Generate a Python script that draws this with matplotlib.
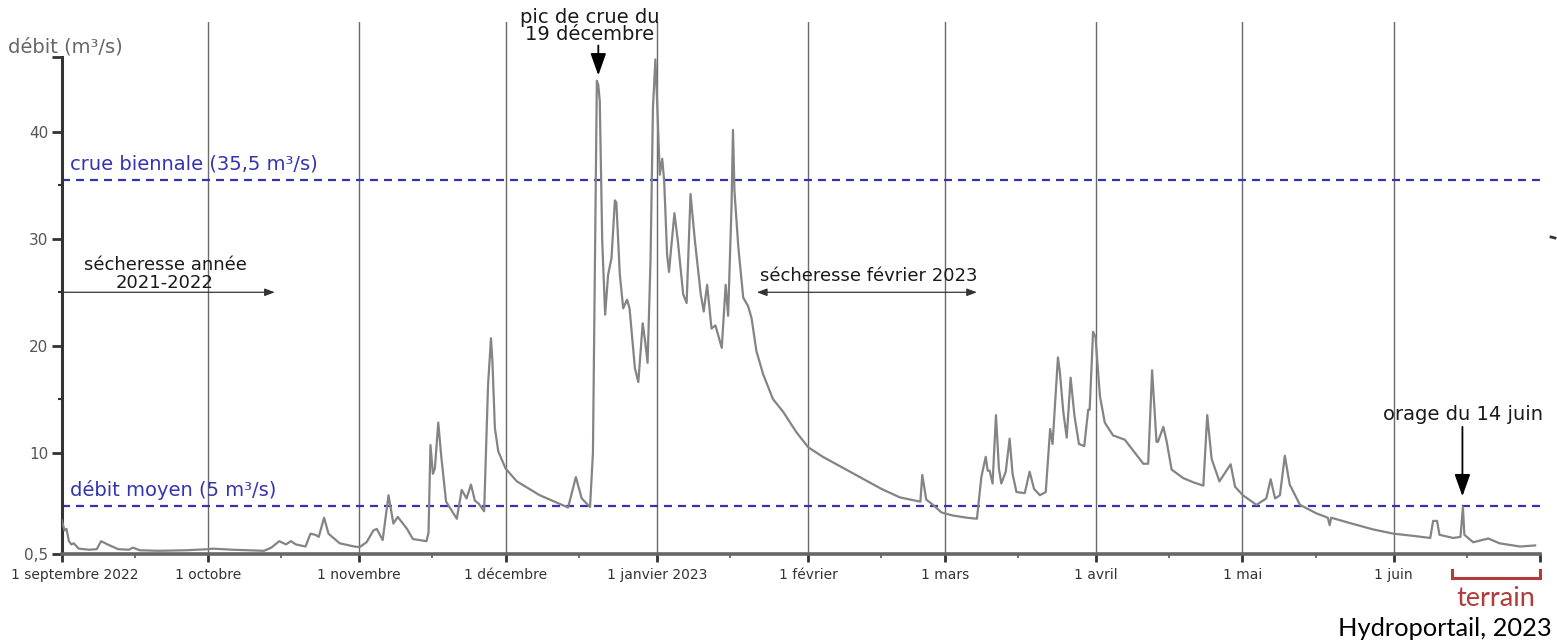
import matplotlib
matplotlib.use("Agg")
import matplotlib.pyplot as plt
import matplotlib.dates as mdates
from matplotlib.transforms import ScaledTranslation
from matplotlib.lines import Line2D
import pandas as pd

# ---------------- data ----------------
debut = pd.Timestamp("2022-09-01")
# days since 1 Sept 2022 of each reading
jours = [0, 0.6, 1.0, 1.5, 2, 2.5, 3.5, 5.7, 7.2, 8.1, 9.4, 11.6, 13.8, 14.6, 16, 20, 25.5, 30, 31, 35,
         41.5, 43, 44.6, 46, 47, 48, 50, 51, 52, 52.7, 53.8, 54.7, 57, 60, 61.1, 62.5, 63.9, 64.6, 65.8,
         67, 68, 68.9, 70.8, 72, 74.8, 75.2, 75.6, 76.1, 76.5, 77.2, 77.8, 78.8, 81, 82, 83, 83.9, 84.7,
         85.5, 86.6, 87.4, 88, 88.3, 88.8, 89.5, 91, 93.3, 98, 102, 103.8, 105.4, 106.6, 108.3,
         108.9, 109.7, 110.0, 110.3, 110.8, 111.4, 112, 112.7, 113.4, 113.7, 114.4, 115.1, 115.9, 116.4,
         117.5, 118.2, 119.1, 119.6, 120.1, 120.7, 121.2, 121.7, 122.1, 122.6, 123.1, 123.5, 124.1,
         124.5, 124.8, 125.6, 126.3, 127.4, 128.1, 128.9, 129.8, 131, 131.6, 132.3, 133.2, 134, 135.3,
         136.1, 136.6, 137.3, 137.6, 137.9, 138.7, 139.7, 140.7, 141.4, 142.4, 143.8, 145.8, 147.9,
         150.6, 153, 156, 160, 164, 168, 171.8, 174.9, 176, 176.4, 177.2, 178.6, 180.3, 181, 182.7,
         185.5, 187.6, 188.5, 189.4, 189.8, 190.2, 190.8, 191.5, 192.1, 192.6, 193.5, 194.3, 194.9,
         195.7, 197.4, 198.4, 199.3, 200.5, 201.7, 202.6, 203.1, 204.2, 204.6, 205.3, 206, 206.8,
         207.6, 208.5, 209.6, 210.4, 210.7, 211.4, 211.9, 212.8, 213.8, 215.5, 217.9, 219.6, 221.7,
         222.7, 223.5, 224.4, 224.7, 225.8, 226.5, 227.5, 229.9, 232, 234, 234.8, 235.7, 237.3, 239.6,
         240.5, 242.1, 244.9, 246.9, 247.8, 248.7, 249.7, 250.7, 251.7, 253.8, 257.2, 259.5, 259.9,
         260.2, 264, 268.8, 273, 277, 280.5, 281.1, 281.9, 282.4, 285.2, 286.7, 287.2, 287.5, 289.3,
         292.4, 294.7, 298.9, 302]
debit = [3.7, 2.7, 2.85, 1.7, 1.4, 1.5, 1.0, 0.9, 0.95, 1.7, 1.4, 0.95, 0.9, 1.1, 0.85, 0.8, 0.85, 0.95, 1.0, 0.9,
         0.8, 1.1, 1.7, 1.4, 1.7, 1.4, 1.2, 2.4, 2.3, 2.1, 3.9, 2.4, 1.5, 1.2, 1.15, 1.6, 2.7, 2.85, 1.8,
         6.0, 3.35, 3.97, 2.85, 1.9, 1.7, 2.5, 10.7, 8.0, 8.5, 12.8, 9.7, 5.4, 3.8, 6.5, 5.7, 7.0, 5.5,
         5.2, 4.5, 16.3, 20.7, 18.5, 12.3, 10.1, 8.5, 7.3, 6.0, 5.2, 4.85, 7.7, 5.7, 4.9,
         10.0, 44.8, 44.4, 42.9, 29.8, 22.9, 26.6, 28.2, 33.6, 33.4, 26.7, 23.5, 24.3, 23.5,
         17.9, 16.6, 22.1, 20.4, 18.4, 28.0, 42.3, 46.8, 42.3, 36.0, 37.5, 35.4, 28.5,
         26.9, 28.5, 32.4, 29.8, 24.8, 24.0, 34.2, 29.8, 24.8, 23.2, 25.7, 21.6, 21.9, 19.8,
         25.7, 22.8, 33.0, 40.2, 34.5, 29.2, 24.5, 23.7, 22.6, 19.5, 17.3, 15.0, 13.8,
         11.9, 10.5, 9.6, 8.6, 7.6, 6.6, 5.8, 5.5, 5.4, 7.9, 5.6, 5.1, 4.4, 4.3, 4.1,
         3.9, 3.8, 7.7, 9.6, 8.3, 8.3, 7.1, 13.5, 8.5, 7.1, 8.2, 11.3, 8.0,
         6.3, 6.2, 8.2, 6.6, 6.0, 6.3, 12.2, 10.8, 18.9, 17.5, 13.8, 11.4, 17.0,
         13.4, 10.8, 10.6, 14.0, 14.0, 21.3, 20.8, 15.3, 12.8, 11.6, 11.2, 10.2, 8.95,
         8.95, 17.7, 11.0, 11.0, 12.4, 11.0, 8.4, 7.6, 7.2, 6.9, 13.5, 9.4, 7.3, 8.9,
         6.8, 6.0, 5.1, 5.7, 7.5, 5.7, 6.0, 9.7, 7.0, 5.1, 4.3, 3.9, 3.2,
         3.9, 3.4, 2.8, 2.4, 2.2, 2.0, 3.6, 3.6, 2.3, 2.0, 2.1, 4.9, 2.3, 1.6,
         1.95, 1.5, 1.2, 1.3]

crue_biennale = 35.5
debit_moyen = 5.0

mois = ["2022-09-01", "2022-10-01", "2022-11-01", "2022-12-01", "2023-01-01", "2023-02-01",
        "2023-03-01", "2023-04-01", "2023-05-01", "2023-06-01", "2023-07-01"]
mois_labels = ["1 septembre 2022", "1 octobre", "1 novembre", "1 décembre", "1 janvier 2023",
               "1 février", "1 mars", "1 avril", "1 mai", "1 juin", ""]
y_ticks = [0.5, 10, 20, 30, 40, 47]
y_labels = ["0,5", "10", "20", "30", "40", ""]
y_minor = [15, 25, 35]

# ---------------- figure ----------------
W, H = 1557, 643
fig = plt.figure(figsize=(W / 100, H / 100), dpi=100)
ax = fig.add_axes([61.6 / W, 1 - 554 / H, (1540 - 61.6) / W, (554 - 22) / H])

dates = debut + pd.to_timedelta(jours, unit="D")
mois_dt = pd.to_datetime(mois)

ax.set_xlim(mois_dt[0], mois_dt[-1])
ax.set_ylim(0.5, 50.3)

# vertical month lines
for m in mois_dt[1:-1]:
    ax.axvline(m, color="#6a6a6a", lw=1.0, zorder=1)

# thresholds
for val in (crue_biennale, debit_moyen):
    ax.axhline(val, color="#3434b0", lw=1.6, linestyle=(0, (3.6, 2.7)), zorder=2)

ax.plot(dates, debit, color="#848484", lw=1.6, zorder=3, solid_joinstyle="round")

# spines
for s in ("top", "right"):
    ax.spines[s].set_visible(False)
ax.spines["left"].set_bounds(0.5, 47)
ax.spines["left"].set_color("#333333")
ax.spines["left"].set_linewidth(2.2)
ax.spines["bottom"].set_color("#666666")
ax.spines["bottom"].set_linewidth(2.6)

# y ticks
ax.set_yticks(y_ticks)
ax.set_yticklabels(y_labels)
ax.set_yticks(y_minor, minor=True)
ax.tick_params(axis="y", which="major", length=7, width=2, color="#333333",
               labelsize=11, labelcolor="#555555", pad=2.5)
ax.tick_params(axis="y", which="minor", length=3, width=1.5, color="#333333")

# x ticks
ax.set_xticks(mois_dt)
ax.set_xticklabels(mois_labels)
ax.xaxis.set_minor_locator(mdates.DayLocator(bymonthday=16))
ax.tick_params(axis="x", which="major", length=6, width=2, color="#333333",
               labelsize=10, labelcolor="#333333", pad=4)
ax.tick_params(axis="x", which="minor", length=3, width=1.2, color="#555555")
first = ax.get_xticklabels()[0]
first.set_transform(first.get_transform() + ScaledTranslation(13 / 100, 0, fig.dpi_scale_trans))

def jour(d):
    return debut + pd.Timedelta(days=d)

# labels
fig.text(8 / W, 1 - 47 / H, "débit (m³/s)", fontsize=14, color="#666666", ha="left", va="center")
ax.text(jour(1.7), 37.0, "crue biennale (35,5 m³/s)", fontsize=14, color="#3434b0", va="center", ha="left")
ax.text(jour(1.7), 6.5, "débit moyen (5 m³/s)", fontsize=14, color="#3434b0", va="center", ha="left")

# peak annotation
ax.text(jour(108.3), 48.2, "pic de crue du\n19 décembre", fontsize=14, ha="center", va="bottom",
        color="#1a1a1a", linespacing=0.9, clip_on=False)
ax.annotate("", xy=(jour(110), 45.3), xytext=(jour(110), 48.1),
            arrowprops=dict(arrowstyle="-|>,head_length=0.9,head_width=0.32", color="black",
                            lw=1.3, mutation_scale=15, shrinkA=0, shrinkB=0),
            annotation_clip=False)

# drought 2021-2022
ax.text(jour(21.2), 26.7, "sécheresse année\n2021-2022", fontsize=13, ha="center", va="center",
        color="#1a1a1a", linespacing=0.95)
ax.annotate("", xy=(jour(43.7), 25.0), xytext=(jour(0), 25.0),
            arrowprops=dict(arrowstyle="-|>,head_length=0.4,head_width=0.15", color="#333333",
                            lw=0.9, mutation_scale=15, shrinkA=0, shrinkB=0))

# drought Feb 2023
ax.text(jour(143.1), 26.5, "sécheresse février 2023", fontsize=13, ha="left", va="center",
        color="#1a1a1a")
ax.annotate("", xy=(jour(187.6), 25.0), xytext=(jour(142.5), 25.0),
            arrowprops=dict(arrowstyle="<|-|>,head_length=0.4,head_width=0.15", color="#333333",
                            lw=0.9, mutation_scale=15, shrinkA=0, shrinkB=0))

# storm 14 June
ax.text(jour(303.6), 13.6, "orage du 14 juin", fontsize=14, ha="right", va="center", color="#1a1a1a",
        clip_on=False)
ax.annotate("", xy=(jour(287.1), 5.9), xytext=(jour(287.1), 12.4),
            arrowprops=dict(arrowstyle="-|>,head_length=0.9,head_width=0.32", color="black",
                            lw=1.3, mutation_scale=15, shrinkA=0, shrinkB=0))

# terrain bracket
rouge = "#b03c3c"
ax.plot([jour(284.9), jour(284.9), jour(303), jour(303)], [-1.0, -1.75, -1.75, -1.0],
        color=rouge, lw=2.2, clip_on=False, solid_joinstyle="miter")
ax.text(jour(294), -3.7, "terrain", fontsize=19.5, color=rouge, ha="center", va="center",
        family="Lato", clip_on=False)

fig.text(1552 / W, 1 - 628 / H, "Hydroportail, 2023", fontsize=18.3, ha="right", va="center",
         family="Lato", color="black")

# small stray mark at right edge of the original
fig.add_artist(Line2D([1551 / W, 1555 / W], [1 - 237 / H, 1 - 238 / H], color="#333333", lw=2))

fig.savefig("out.png", dpi=100)
